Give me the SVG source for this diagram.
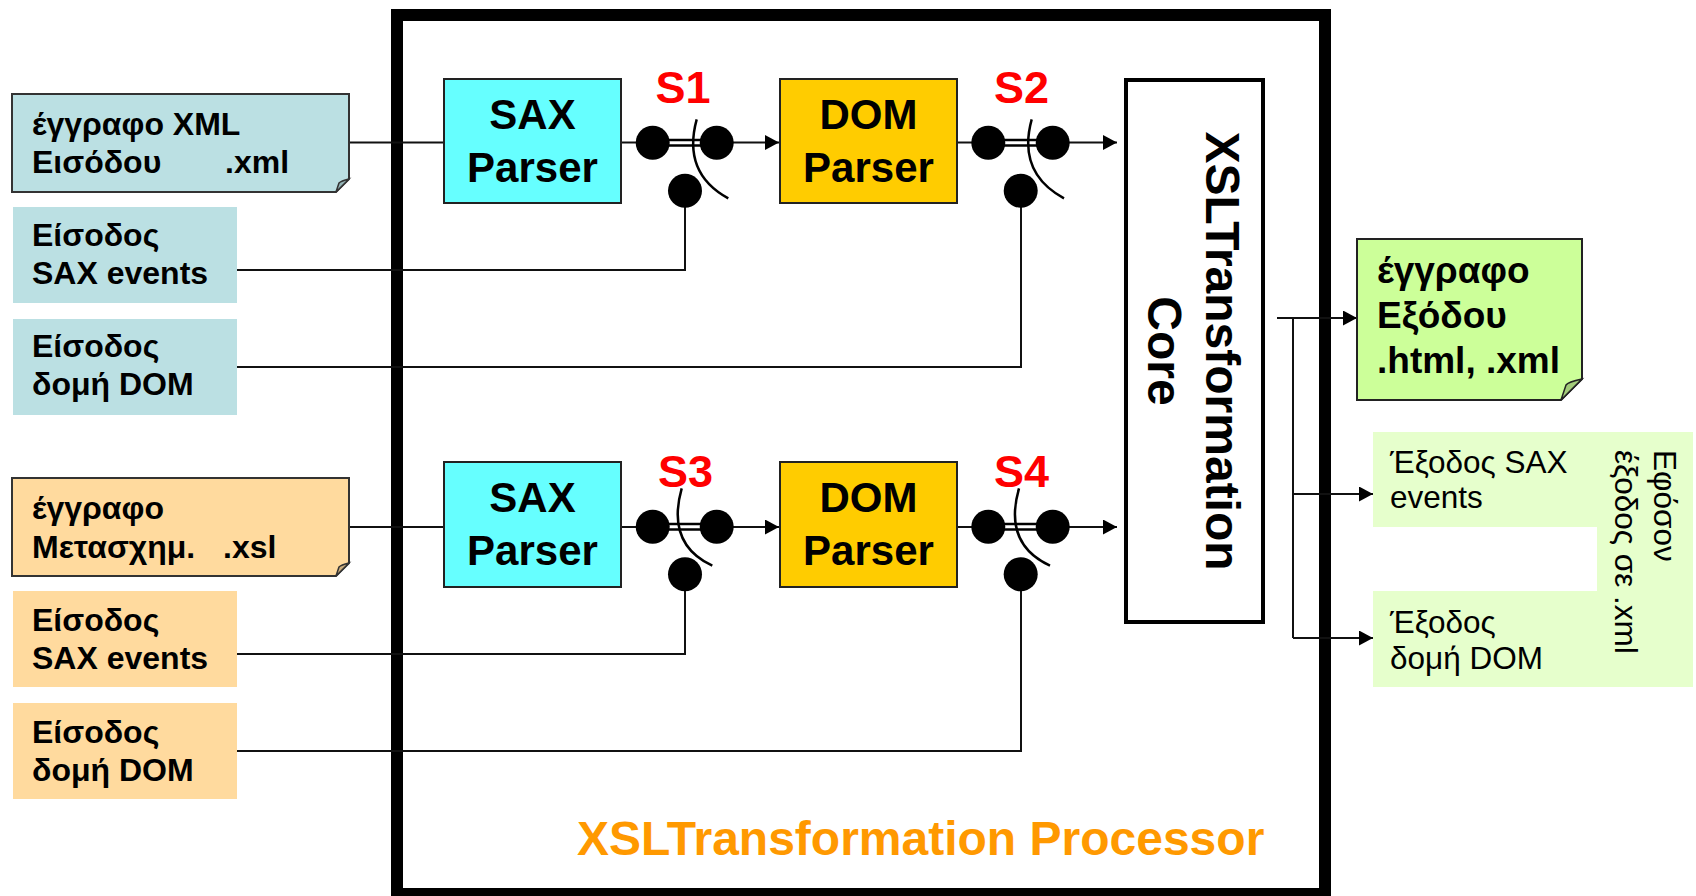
<svg xmlns="http://www.w3.org/2000/svg" width="1696" height="896" viewBox="0 0 1696 896">
  <style>
    text { font-family: "Liberation Sans", Arial, "Noto Sans", sans-serif; }
    .b { font-weight: bold; }
    .lbl { font-size: 32px; font-weight: bold; fill: #000; }
    .doc { font-size: 37px; font-weight: bold; fill: #000; }
    .out { font-size: 31.5px; fill: #000; }
    .parser { font-size: 42px; font-weight: bold; fill: #000; text-anchor: middle; }
    .sw { font-size: 45px; font-weight: bold; fill: #FF0000; text-anchor: middle; }
    .core { font-size: 48px; font-weight: bold; fill: #000; text-anchor: middle; }
    .line { stroke: #111; stroke-width: 2; fill: none; }
    .arr { stroke: #111; stroke-width: 2; fill: none; marker-end: url(#ah); }
    .dot { fill: #000; }
    .arc { stroke: #000; stroke-width: 2.5; fill: none; }
    .box { stroke: #222; stroke-width: 2; }
  </style>
  <defs>
    <marker id="ah" markerUnits="userSpaceOnUse" markerWidth="15" markerHeight="16" refX="14" refY="7.5" orient="auto">
      <path d="M0,0 L14,7.5 L0,15 Z" fill="#000"/>
    </marker>
  </defs>

  <!-- processor frame -->
  <g id="processor">
    <rect x="397" y="15" width="928" height="879" fill="#fff" stroke="#000" stroke-width="12"/>
    <text x="577" y="855" class="b" font-size="48" fill="#FF9900">XSLTransformation Processor</text>
  </g>

  <!-- connectors -->
  <g id="connectors">
    <!-- input documents into SAX parsers -->
    <line class="line" x1="349" y1="142.5" x2="444" y2="142.5"/>
    <line class="line" x1="349" y1="527" x2="444" y2="527"/>
    <!-- parser outputs into switches -->
    <line class="line" x1="621" y1="142.5" x2="640" y2="142.5"/>
    <line class="line" x1="957" y1="142.5" x2="975" y2="142.5"/>
    <line class="line" x1="621" y1="527" x2="640" y2="527"/>
    <line class="line" x1="957" y1="527" x2="975" y2="527"/>
    <!-- switch outputs -->
    <line class="arr" x1="730" y1="142.5" x2="779" y2="142.5"/>
    <line class="arr" x1="1066" y1="142.5" x2="1117" y2="142.5"/>
    <line class="arr" x1="730" y1="527" x2="779" y2="527"/>
    <line class="arr" x1="1066" y1="527" x2="1117" y2="527"/>
    <!-- external inputs to switch contacts -->
    <polyline class="line" points="237,270 685,270 685,200"/>
    <polyline class="line" points="237,367 1021,367 1021,200"/>
    <polyline class="line" points="237,654 685,654 685,584"/>
    <polyline class="line" points="237,751 1021,751 1021,584"/>
    <!-- outputs of the core -->
    <line class="arr" x1="1277" y1="318" x2="1357" y2="318"/>
    <line class="line" x1="1293" y1="318" x2="1293" y2="638"/>
    <line class="arr" x1="1293" y1="494" x2="1373" y2="494"/>
    <line class="arr" x1="1293" y1="638" x2="1373" y2="638"/>
  </g>

  <!-- left inputs, document stream -->
  <g id="doc-xml">
    <path d="M12,94 H349 V179 L336,192 H12 Z" fill="#BBE0E3" stroke="#333" stroke-width="2"/>
    <path d="M336,192 L339,183 Q341,181 349,179 Z" fill="#94B4B6" stroke="#333" stroke-width="1.5"/>
    <text class="lbl" x="32" y="135">έγγραφο XML</text>
    <text class="lbl" x="32" y="173">Εισόδου<tspan x="225">.xml</tspan></text>
  </g>
  <g id="in-sax-1">
    <rect x="13" y="207" width="224" height="96" fill="#BBE0E3"/>
    <text class="lbl" x="32" y="246">Είσοδος</text>
    <text class="lbl" x="32" y="284">SAX events</text>
  </g>
  <g id="in-dom-1">
    <rect x="13" y="319" width="224" height="96" fill="#BBE0E3"/>
    <text class="lbl" x="32" y="357">Είσοδος</text>
    <text class="lbl" x="32" y="395">δομή DOM</text>
  </g>

  <!-- left inputs, stylesheet stream -->
  <g id="doc-xsl">
    <path d="M12,478 H349 V563 L336,576 H12 Z" fill="#FFDA9E" stroke="#333" stroke-width="2"/>
    <path d="M336,576 L339,567 Q341,565 349,563 Z" fill="#CCAE7E" stroke="#333" stroke-width="1.5"/>
    <text class="lbl" x="32" y="519">έγγραφο</text>
    <text class="lbl" x="32" y="558">Μετασχημ.<tspan x="223">.xsl</tspan></text>
  </g>
  <g id="in-sax-2">
    <rect x="13" y="591" width="224" height="96" fill="#FFDA9E"/>
    <text class="lbl" x="32" y="631">Είσοδος</text>
    <text class="lbl" x="32" y="669">SAX events</text>
  </g>
  <g id="in-dom-2">
    <rect x="13" y="703" width="224" height="96" fill="#FFDA9E"/>
    <text class="lbl" x="32" y="743">Είσοδος</text>
    <text class="lbl" x="32" y="781">δομή DOM</text>
  </g>

  <!-- parsers -->
  <g id="sax-1">
    <rect class="box" x="444" y="79" width="177" height="124" fill="#66FFFF"/>
    <text class="parser" x="532.5" y="129">SAX</text>
    <text class="parser" x="532.5" y="182">Parser</text>
  </g>
  <g id="dom-1">
    <rect class="box" x="780" y="79" width="177" height="124" fill="#FFCC00"/>
    <text class="parser" x="868.5" y="129">DOM</text>
    <text class="parser" x="868.5" y="182">Parser</text>
  </g>
  <g id="sax-2">
    <rect class="box" x="444" y="462" width="177" height="125" fill="#66FFFF"/>
    <text class="parser" x="532.5" y="512">SAX</text>
    <text class="parser" x="532.5" y="565">Parser</text>
  </g>
  <g id="dom-2">
    <rect class="box" x="780" y="462" width="177" height="125" fill="#FFCC00"/>
    <text class="parser" x="868.5" y="512">DOM</text>
    <text class="parser" x="868.5" y="565">Parser</text>
  </g>

  <!-- switches -->
  <g id="s1">
    <line x1="655" y1="142.7" x2="715" y2="142.7" stroke="#000" stroke-width="8"/>
    <line x1="668" y1="142.7" x2="702" y2="142.7" stroke="#fff" stroke-width="3"/>
    <circle class="dot" cx="652.7" cy="142.7" r="17"/>
    <circle class="dot" cx="716.7" cy="142.7" r="17"/>
    <circle class="dot" cx="685" cy="190.7" r="17"/>
    <path class="arc" d="M696.7,119.3 Q682,173 728.3,198.3"/>
    <text class="sw" x="683" y="103">S1</text>
  </g>
  <g id="s2">
    <line x1="991" y1="142.7" x2="1051" y2="142.7" stroke="#000" stroke-width="8"/>
    <line x1="1004" y1="142.7" x2="1038" y2="142.7" stroke="#fff" stroke-width="3"/>
    <circle class="dot" cx="988.3" cy="142.7" r="17"/>
    <circle class="dot" cx="1052.7" cy="142.7" r="17"/>
    <circle class="dot" cx="1020.7" cy="190.7" r="17"/>
    <path class="arc" d="M1031.7,119.3 Q1017,173 1064,198.3"/>
    <text class="sw" x="1021.5" y="103">S2</text>
  </g>
  <g id="s3">
    <line x1="655" y1="526.7" x2="715" y2="526.7" stroke="#000" stroke-width="8"/>
    <line x1="668" y1="526.7" x2="702" y2="526.7" stroke="#fff" stroke-width="3"/>
    <circle class="dot" cx="652.7" cy="526.7" r="17"/>
    <circle class="dot" cx="716.7" cy="526.7" r="17"/>
    <circle class="dot" cx="685" cy="574.3" r="17"/>
    <path class="arc" d="M681.7,488.3 Q666,544 712.3,565.7"/>
    <text class="sw" x="685.5" y="487">S3</text>
  </g>
  <g id="s4">
    <line x1="991" y1="526.7" x2="1051" y2="526.7" stroke="#000" stroke-width="8"/>
    <line x1="1004" y1="526.7" x2="1038" y2="526.7" stroke="#fff" stroke-width="3"/>
    <circle class="dot" cx="988.3" cy="526.7" r="17"/>
    <circle class="dot" cx="1052.7" cy="526.7" r="17"/>
    <circle class="dot" cx="1020.7" cy="574.3" r="17"/>
    <path class="arc" d="M1019,488.3 Q1003,544 1050,565.7"/>
    <text class="sw" x="1021.5" y="487">S4</text>
  </g>

  <!-- transformation core -->
  <g id="core">
    <rect x="1126" y="80" width="137" height="542" fill="#fff" stroke="#000" stroke-width="4"/>
    <text class="core" transform="translate(1206,351) rotate(90)">XSLTransformation</text>
    <text class="core" transform="translate(1148,351) rotate(90)">Core</text>
  </g>

  <!-- outputs -->
  <g id="doc-out">
    <path d="M1357,239 H1582 V379 L1561,400 H1357 Z" fill="#CCFF99" stroke="#222" stroke-width="2"/>
    <path d="M1561,400 L1566,385 Q1568,382 1582,379 Z" fill="#A3CC7A" stroke="#222" stroke-width="1.5"/>
    <text class="doc" x="1377" y="283">έγγραφο</text>
    <text class="doc" x="1377" y="328">Εξόδου</text>
    <text class="doc" x="1377" y="373">.html, .xml</text>
  </g>
  <g id="out-events">
    <path d="M1373,432 H1693 V687 H1373 V591 H1597 V527 H1373 Z" fill="#E6FFCC"/>
    <text class="out" x="1390" y="473">Έξοδος SAX</text>
    <text class="out" x="1390" y="508">events</text>
    <text class="out" x="1390" y="633">Έξοδος</text>
    <text class="out" x="1390" y="669">δομή DOM</text>
    <text class="out" transform="translate(1654,450) rotate(90)">Εφόσον</text>
    <text class="out" transform="translate(1615,450) rotate(90)">έξοδος σε .xml</text>
  </g>
</svg>
